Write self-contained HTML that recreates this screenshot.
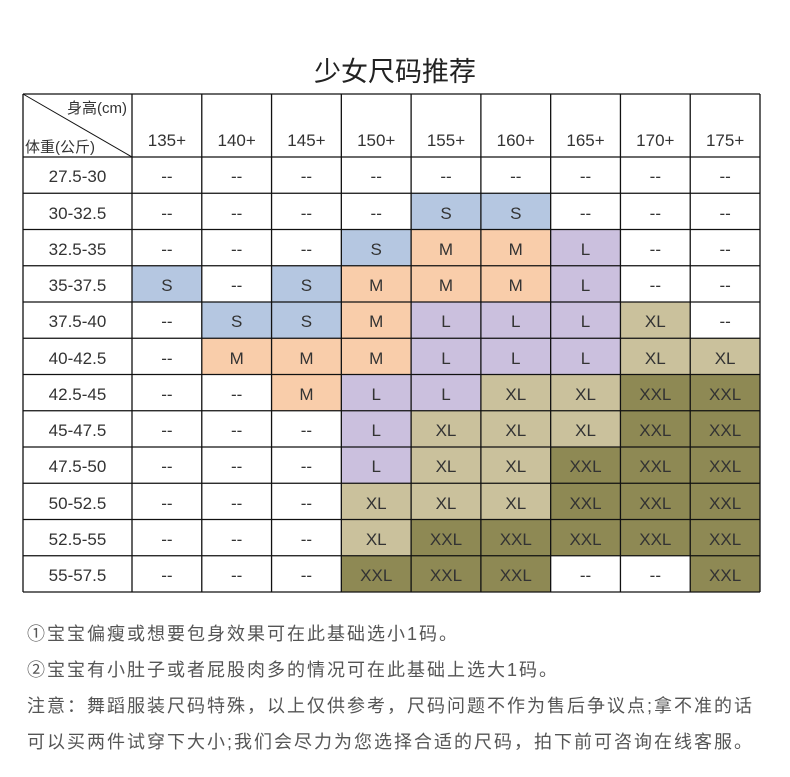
<!DOCTYPE html>
<html><head><meta charset="utf-8"><style>
body{margin:0;width:790px;height:777px;background:#fff;position:relative;overflow:hidden;font-family:"Liberation Sans","Noto Sans CJK SC",sans-serif;color:#333}
.t{position:absolute;left:0;width:790px;top:50px;text-align:center;font-size:27px;color:#222}
#g{position:absolute;left:0;top:0}
.c{position:absolute;box-sizing:border-box;text-align:center;font-size:17px;color:#333;display:flex;align-items:flex-end;justify-content:center;padding-bottom:6px}
.n{position:absolute;left:27px;font-size:18px;letter-spacing:2px;color:#555;white-space:nowrap}
</style></head><body>
<div class="t">少女尺码推荐</div>
<div id="g"></div>
<div class="n" style="top:620px">①宝宝偏瘦或想要包身效果可在此基础选小1码。</div>
<div class="n" style="top:656px">②宝宝有小肚子或者屁股肉多的情况可在此基础上选大1码。</div>
<div class="n" style="top:692px">注意：舞蹈服装尺码特殊，以上仅供参考，尺码问题不作为售后争议点;拿不准的话</div>
<div class="n" style="top:728px">可以买两件试穿下大小;我们会尽力为您选择合适的尺码，拍下前可咨询在线客服。</div>
<script>
var rows=[["27.5-30","--,--,--,--,--,--,--,--,--"],["30-32.5","--,--,--,--,S,S,--,--,--"],["32.5-35","--,--,--,S,M,M,L,--,--"],["35-37.5","S,--,S,M,M,M,L,--,--"],["37.5-40","--,S,S,M,L,L,L,XL,--"],["40-42.5","--,M,M,M,L,L,L,XL,XL"],["42.5-45","--,--,M,L,L,XL,XL,XXL,XXL"],["45-47.5","--,--,--,L,XL,XL,XL,XXL,XXL"],["47.5-50","--,--,--,L,XL,XL,XXL,XXL,XXL"],["50-52.5","--,--,--,XL,XL,XL,XXL,XXL,XXL"],["52.5-55","--,--,--,XL,XXL,XXL,XXL,XXL,XXL"],["55-57.5","--,--,--,XXL,XXL,XXL,--,--,XXL"]];
var col={S:"#b5c7e1",M:"#f9cdaa",L:"#cbc0de",XL:"#cac19c",XXL:"#8e8954","--":"#fff"};
var hs=["135+","140+","145+","150+","155+","160+","165+","170+","175+"];
var L=23,R=760,T=94,H0=157,B=592,rh=(B-H0)/12,x0=132,cw=(R-x0)/9;
var h="";
function cell(x,y,w,hh,bg,txt){h+='<div class="c" style="left:'+x+'px;top:'+y+'px;width:'+w+'px;height:'+hh+'px;background:'+bg+'">'+txt+'</div>';}
cell(L,T,x0-L,H0-T,"#fff","");
for(var j=0;j<9;j++)cell(x0+j*cw,T,cw,H0-T,"#fff",hs[j]);
for(var i=0;i<12;i++){var y=H0+i*rh;cell(L,y,x0-L,rh,"#fff",rows[i][0]);var v=rows[i][1].split(",");for(var j=0;j<9;j++)cell(x0+j*cw,y,cw,rh,col[v[j]],v[j]);}
var s='<svg width="790" height="777" style="position:absolute;left:0;top:0" xmlns="http://www.w3.org/2000/svg"><g stroke="#111" stroke-width="1.3">';
for(var i=0;i<=12;i++){var y=H0+i*rh;s+='<line x1="'+L+'" x2="'+R+'" y1="'+y+'" y2="'+y+'"/>';}
s+='<line x1="'+L+'" x2="'+R+'" y1="'+T+'" y2="'+T+'"/>';
s+='<line x1="'+L+'" x2="'+L+'" y1="'+T+'" y2="'+B+'"/>';
for(var j=0;j<=9;j++){var x=x0+j*cw;s+='<line x1="'+x+'" x2="'+x+'" y1="'+T+'" y2="'+B+'"/>';}
s+='<line x1="'+L+'" y1="'+T+'" x2="'+x0+'" y2="'+H0+'" stroke-width="1"/></g>';
s+='<text x="127" y="113" text-anchor="end" font-size="15" fill="#333" font-family="Liberation Sans,Noto Sans CJK SC,sans-serif">身高(cm)</text>';
s+='<text x="25" y="152" font-size="15" fill="#333" font-family="Liberation Sans,Noto Sans CJK SC,sans-serif">体重(公斤)</text></svg>';
document.getElementById("g").innerHTML=h+s;
</script>
</body></html>
